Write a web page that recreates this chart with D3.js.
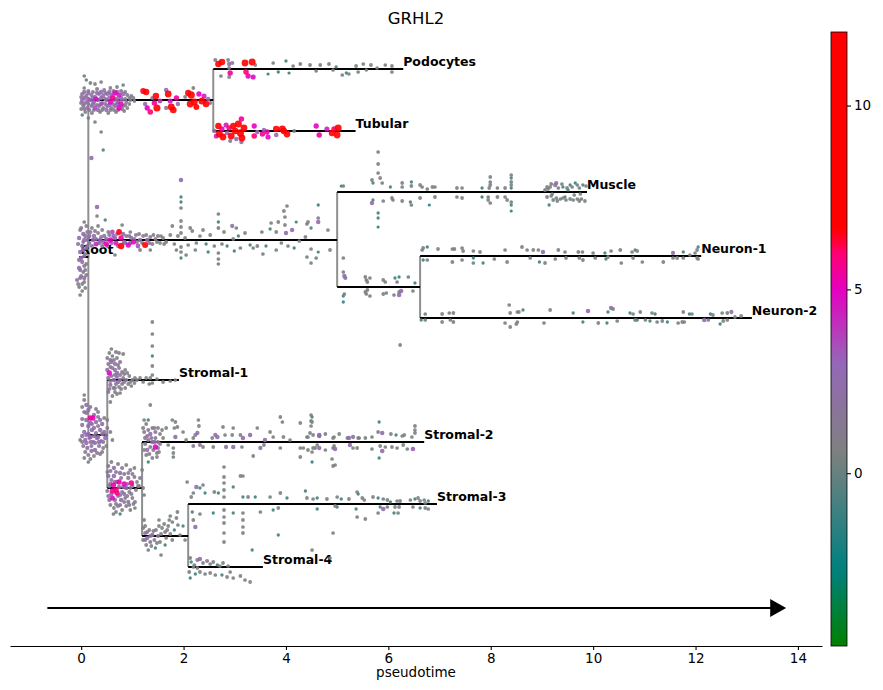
<!DOCTYPE html>
<html>
<head>
<meta charset="utf-8">
<script src="https://cdn.jsdelivr.net/npm/d3@7"></script>
<style>
  body { margin: 0; background: #fff; }
  text { font-family: "DejaVu Sans", sans-serif; }
</style>
</head>
<body>
<div id="chart"></div>
<script>
// Dendrogram branches (pseudotime start / end, vertical position, parent index)
var branchNames  = ["Root", "up", "Podocytes", "Tubular", "mid", "Muscle", "midlow", "Neuron-1", "Neuron-2",
                    "strom", "Stromal-1", "slow", "Stromal-2", "slow2", "Stromal-3", "Stromal-4"];
var branchStart  = [-0.04, 0.14, 2.58, 2.58, 0.14, 5.0, 5.0, 6.62, 6.62, 0.14, 0.51, 0.51, 1.19, 1.19, 2.09, 2.09];
var branchEnd    = [0.14, 2.58, 6.29, 5.36, 5.0, 9.88, 6.62, 12.11, 13.1, 0.51, 1.91, 1.19, 6.70, 2.09, 6.95, 3.55];
var branchY      = [225, 68, 37, 99, 208, 160, 255, 224, 286, 403, 348, 456, 410, 504, 472, 535];
var branchParent = [-1, 0, 1, 1, 0, 4, 4, 6, 6, 0, 9, 9, 11, 11, 13, 13];
var branchLabel  = [true, false, true, true, false, true, false, true, true, false, true, false, true, false, true, true];

var xTicks = [0, 2, 4, 6, 8, 10, 12, 14];
var colorTicks = [0, 5, 10];

// cells: [pseudotime, offset from branch, GRHL2 expression]
var ptsUp = [
  [0.06,-24,0.2],[0.10,-20,-0.3],[0.18,-17,0.5],[0.06,-12,0.3],[0.27,-16,0.6],[0.39,-18,0.4],[0.14,-9,1.0],[0.31,-11,1.5],
  [0.45,-10,1.2],[0.57,-12,0.8],[0.70,-13,0.5],[0.82,-15,0.3],[0.02,-6,1.8],[0.10,-4,2.2],[0.20,-5,1.6],[0.27,-3,2.5],
  [0.35,-6,1.9],[0.43,-4,2.8],[0.51,-6,2.0],[0.59,-5,3.2],[0.66,-7,5.0],[0.74,-5,4.5],[0.82,-6,2.4],[0.90,-5,1.5],
  [0.98,-4,1.0],[0.02,0,2.6],[0.10,2,1.4],[0.18,0,2.9],[0.25,2,2.2],[0.33,0,3.0],[0.41,3,1.8],[0.49,0,2.5],[0.57,2,4.8],
  [0.64,0,2.0],[0.72,2,3.4],[0.80,0,1.7],[0.88,2,1.2],[0.96,0,0.9],[1.04,1,0.6],[0.04,6,1.2],[0.12,8,2.4],[0.20,6,1.1],
  [0.27,8,3.5],[0.35,6,2.0],[0.43,8,1.5],[0.51,6,2.7],[0.59,8,1.4],[0.66,6,2.2],[0.74,8,5.2],[0.82,6,1.6],[0.90,8,0.8],
  [0.08,12,0.9],[0.21,13,1.3],[0.37,12,0.7],[0.53,13,1.0],[0.68,12,0.8],[0.84,11,0.6],[0.14,18,0.2],[0.27,22,0.4],
  [0.02,15,-0.5],[0.39,32,0.2],[0.43,50,-0.5],[0.20,58,2.5],
  [0.06,-8,2.0],[0.14,-7,2.6],[0.23,-8,1.4],[0.31,-7,2.2],[0.39,-8,3.0],[0.47,-7,1.6],[0.55,-8,2.4],[0.63,-9,1.2],[0.70,-8,2.8],
  [0.78,-9,1.5],[0.86,-8,0.9],[0.06,-2,2.4],[0.14,-1,3.2],[0.23,-2,2.0],[0.29,-1,4.6],[0.39,-2,2.6],[0.47,-1,1.8],[0.55,-2,3.0],
  [0.62,-2,5.6],[0.70,-1,2.2],[0.78,-2,2.9],[0.86,-1,1.4],[0.94,-2,1.1],[1.02,-2,0.7],[0.06,4,2.1],[0.14,4,1.7],[0.23,4,2.6],
  [0.31,5,1.9],[0.39,4,3.3],[0.47,4,1.5],[0.55,5,2.3],[0.62,4,1.9],[0.70,4,2.6],[0.78,4,4.9],[0.86,5,1.3],[0.94,4,0.8],
  [0.06,9,1.4],[0.16,10,1.9],[0.25,10,1.2],[0.33,10,2.5],[0.41,10,1.1],[0.49,10,2.0],[0.57,10,1.6],[0.64,10,0.9],[0.72,10,1.8],
  [0.80,9,1.0],[0.00,-3,1.2],[0.00,3,1.6],[0.00,9,0.8],
  [1.21,-9,6.5],[1.27,-8,8.5],[1.25,4,2.5],[1.29,8,5.0],[1.39,-2,1.5],[1.43,3,5.5],[1.46,-4,9.0],[1.48,8,10.5],[1.35,12,6.0],
  [1.54,1,4.0],[1.66,-10,3.0],[1.70,-6,9.5],[1.74,1,4.5],[1.76,7,10.0],[1.80,10,9.0],[1.86,-2,5.5],[1.66,8,2.0],[1.89,4,2.5],
  [2.03,-3,1.0],[2.09,-7,8.0],[2.15,-5,11.0],[2.13,4,10.0],[2.21,2,9.5],[2.25,7,7.0],[2.30,-6,5.0],[2.36,1,10.5],[2.40,-4,4.5],
  [2.44,4,9.0],[2.48,-1,3.0],[2.52,3,1.5],[2.19,-12,0.5]
];
var ptsPodocytes = [
  [2.62,-9,1.5],[2.68,-5,8.5],[2.75,-7,9.0],[2.73,7,0.3],[2.87,-9,0.5],[2.89,-5,2.5],[2.89,-1,1.0],[2.91,4,5.5],[2.89,8,0.8],
  [2.95,-6,1.8],[3.20,-6,9.5],[3.22,3,6.0],[3.26,7,5.0],[3.34,-7,10.0],[3.36,8,4.8],[3.40,-4,0.5],[3.65,5,-1.5],[3.75,-6,0.3],
  [3.85,3,-1.2],[4.00,-8,-1.0],[4.06,4,-1.4],[4.14,-3,0.4],[4.28,-5,0.5],[4.47,-4,0.6],[4.59,2,0.2],[4.67,-4,0.5],[4.84,-5,0.8],
  [4.92,1,0.3],[4.98,-2,-0.8],[5.10,6,0.4],[5.18,4,-1.0],[5.23,5,0.2],[5.37,-3,0.5],[5.41,3,0.3],[5.51,-5,0.4],[5.57,1,0.2],
  [5.66,-4,0.5],[5.78,-1,0.3],[5.94,-4,0.4],[6.07,-3,0.6],[6.07,3,0.4]
];
var ptsTubular = [
  [2.60,0,2.5],[2.64,5,4.5],[2.68,-5,8.5],[2.70,3,10.0],[2.75,-2,5.0],[2.77,6,9.5],[2.85,2,3.0],[2.89,-3,6.0],[2.93,5,10.0],
  [2.97,-5,8.0],[3.01,0,9.0],[3.03,8,2.5],[3.07,-7,10.5],[3.11,2,11.0],[3.13,-12,5.5],[3.14,7,10.0],[3.18,-3,9.5],[3.13,11,2.5],
  [2.91,10,1.5],[2.83,-6,4.5],[3.38,-5,5.0],[3.38,5,6.0],[3.44,1,2.5],[3.54,3,5.5],[3.57,-1,2.8],[3.63,1,5.2],[3.65,6,4.8],
  [3.81,-2,9.0],[3.93,-2,10.0],[3.96,0,8.5],[4.02,3,9.5],[4.59,-5,5.0],[4.65,4,5.5],[4.80,-2,4.5],[4.90,2,9.0],[4.94,-2,6.0],
  [5.02,-3,10.0],[5.00,4,9.5],[4.16,0,0.5],[3.81,4,3.0]
];
var ptsMid = [
  [0.06,-18,0.3],[0.10,-14,0.6],[-0.02,-10,1.2],[0.04,-6,2.0],[0.12,-8,1.5],[-0.04,-2,2.4],[0.06,0,2.8],[0.14,-2,1.0],
  [0.02,6,2.2],[0.10,8,1.8],[-0.02,12,2.5],[0.06,16,1.4],[0.02,22,2.0],[0.10,24,1.2],[-0.04,28,2.6],[0.04,32,1.0],
  [-0.02,38,1.6],[0.06,42,0.8],[-0.04,47,0.5],[0.02,51,0.3],[0.10,35,1.3],[0.00,18,3.0],[-0.08,40,1.8],
  [0.00,-12,1.6],[0.08,-4,2.2],[-0.06,4,1.8],[0.04,10,2.6],[0.08,14,1.2],[-0.04,20,2.2],[0.06,26,1.6],[-0.02,30,2.0],
  [0.08,30,1.0],[0.00,36,1.4],[0.06,38,2.4],[-0.06,44,1.2],[0.02,44,0.9],[0.08,48,0.6],[-0.02,55,0.4],[0.04,2,1.5],
  [0.18,-8,1.5],[0.25,-4,2.5],[0.33,-7,1.0],[0.37,0,3.2],[0.45,-4,2.0],[0.53,-8,1.2],[0.57,0,5.0],[0.63,-4,2.3],[0.68,3,4.5],
  [0.74,-8,6.5],[0.78,-2,5.5],[0.78,6,8.5],[0.84,2,3.0],[0.88,-4,1.5],[0.92,5,5.0],[0.98,-2,2.0],[1.02,2,4.8],[1.07,-5,1.2],
  [1.11,6,3.5],[1.15,0,2.2],[1.21,-4,0.9],[1.25,5,7.5],[1.29,0,3.0],[1.35,-3,1.0],[1.39,4,1.8],[1.45,-1,0.8],[1.50,-4,1.4],
  [1.54,3,0.6],[1.60,-2,1.0],[1.66,2,0.5],[0.21,6,1.8],[0.29,4,4.2],[0.41,6,1.4],[0.49,4,5.2],[0.61,-8,3.6],[0.21,-12,0.8],
  [0.16,-4,2.2],[0.16,3,1.6],[0.23,0,2.8],[0.27,-9,1.2],[0.29,-1,1.9],[0.35,3,2.4],[0.39,-3,1.5],[0.41,-10,0.8],[0.43,2,3.0],
  [0.49,-1,2.1],[0.51,6,1.2],[0.55,-5,1.7],[0.59,3,2.6],[0.66,-2,3.2],[0.70,-6,1.4],[0.72,6,2.0],[0.82,-6,2.4],[0.86,3,1.6],
  [0.94,-4,1.8],[0.96,3,2.5],[1.04,-1,1.5],[1.09,2,0.9],[1.13,-6,1.2],[1.19,3,1.0],[1.27,-5,0.8],[1.33,3,1.4],[1.41,-5,0.6],
  [1.48,2,0.7],[1.56,-4,0.4],[1.62,4,0.5],[0.12,0,1.4],[0.12,6,2.0],
  [0.33,-14,0.5],[0.31,-33,2.8],[0.31,-24,0.4],[0.80,-15,0.3],[0.96,-8,0.4],[1.15,10,0.5],[1.35,10,0.3],[0.66,15,0.2],[0.47,-20,-0.6],
  [1.74,-5,0.5],[1.82,4,0.3],[1.89,-4,0.8],[1.95,-38,-1.0],[1.95,-32,0.4],[1.95,-19,0.6],[1.95,-13,0.5],[1.95,-7,0.7],
  [1.95,7,0.5],[1.95,12,0.4],[1.95,18,-1.2],[2.03,-2,0.5],[2.09,5,0.4],[2.17,-9,0.6],[2.25,3,0.3],[1.95,-60,2.8],[1.95,-43,-1.0],
  [2.32,-4,0.4],[2.44,4,-1.0],[2.52,-5,0.5],[2.60,6,0.3],[2.68,-26,0.4],[2.68,-18,-1.2],[2.68,-12,0.5],[2.68,13,0.4],[2.68,19,0.3],
  [2.68,24,0.2],[2.79,-8,0.5],[2.85,6,-1.0],[2.95,-14,2.0],[2.97,-1,0.5],[2.99,11,-1.3],[3.03,-12,0.4],[3.07,-4,-1.1],[3.11,8,0.4],
  [3.36,8,0.4],[3.44,6,0.5],[3.55,14,0.3],[3.61,6,-1.0],[3.69,-11,-1.2],[3.71,-17,0.4],[3.81,-8,0.5],[3.81,10,0.4],[3.85,-18,0.6],
  [3.91,3,0.4],[3.96,-29,0.5],[3.98,-23,0.4],[3.98,-15,0.6],[4.00,-7,2.5],[4.02,-34,0.4],[4.04,6,0.3],[4.12,-10,2.7],[4.16,8,-1.0],
  [4.20,-18,-1.4],[4.26,1,0.3],[4.38,-3,0.5],[4.43,-18,0.6],[4.49,9,0.4],[4.59,18,0.3],[4.63,-22,0.4],[4.63,-18,2.6],[4.63,-35,-1.2],
  [4.63,12,-1.5],[4.41,-16,0.3],[4.49,-12,-0.8],[4.41,17,0.4],[4.49,23,0.3],[4.82,-10,0.4],[4.86,10,0.5],
  [2.13,-12,0.5],[2.23,10,0.4],[2.38,-10,0.5],[2.48,12,-1.1],[2.75,4,0.4],[3.20,-7,0.5],[3.30,5,-1.0],[3.53,-8,0.4],[1.78,-14,0.5],
  [1.86,10,0.3],[2.05,15,0.4]
];
var ptsMuscle = [
  [5.08,-6,-1.5],[5.12,-6,0.3],[5.68,-12,0.5],[5.70,-9,-1.0],[5.80,-19,0.4],[5.80,-28,0.5],[5.80,-40,0.4],[5.84,-14,0.6],
  [5.88,-9,0.4],[6.04,-5,-1.2],[6.27,-9,0.5],[6.27,-5,0.4],[6.45,-10,-1.0],[6.45,-6,0.5],[6.62,-7,0.6],[6.66,-5,0.4],
  [6.76,-3,0.3],[6.86,-5,0.5],[6.91,-5,0.4],[7.34,-4,0.5],[7.44,-4,0.4],[7.83,-4,-1.2],[7.99,-15,0.5],[7.99,-10,0.4],
  [7.99,-7,0.6],[7.97,-4,0.5],[8.13,-4,0.4],[8.28,-4,0.5],[8.40,-17,0.4],[8.40,-14,-1.0],[8.40,-10,0.5],[8.40,-7,0.3],
  [8.40,-4,-1.3],[9.10,-5,0.5],[9.16,-5,0.4],[9.26,-7,2.5],[9.28,-9,1.8],[9.41,-5,-1.0],[9.55,-7,-1.2],[9.69,-7,0.3],
  [9.80,-7,-0.8],[9.86,-6,0.4],
  [5.68,11,2.5],[5.70,8,-1.0],[5.80,21,-1.2],[5.80,26,-1.2],[5.80,35,-1.6],[5.90,9,0.4],[6.07,6,0.5],[6.09,8,0.4],[6.27,9,0.5],
  [6.43,10,-1.0],[6.45,13,0.4],[6.62,6,0.5],[6.80,13,-1.4],[6.91,5,0.5],[7.34,5,0.4],[7.44,6,0.5],[7.83,5,-1.0],[7.95,5,0.4],
  [7.95,8,0.6],[7.99,11,0.4],[8.13,5,0.5],[8.28,5,0.4],[8.32,8,0.5],[8.40,10,0.4],[8.40,13,-1.0],[8.40,19,-1.5],[9.10,5,0.6],
  [9.14,13,-1.2],[9.22,8,0.5],[9.41,6,0.4],[9.55,7,0.5],[9.69,7,0.4],[9.84,9,0.5],[9.28,6,0.4],[9.36,7,0.3],[9.47,8,0.4],
  [9.77,7,0.3],[9.06,-2,0.5],[9.20,2,0.3],[9.51,-2,-0.9],[9.63,3,0.3],[9.75,2,0.4],
  [9.12,-3,0.4],[9.18,-8,0.5],[9.32,-4,0.3],[9.39,-8,0.4],[9.49,-4,0.5],[9.59,-5,0.4],[9.65,-9,-1.0],[9.73,-4,0.4],
  [9.18,4,0.4],[9.30,9,0.5],[9.45,5,-1.0],[9.61,8,0.4],[9.73,9,0.5]
];
var ptsMidlow = [
  [5.12,-29,0.4],[5.12,-15,0.3],[5.14,-11,2.5],[5.16,-9,1.8],[5.55,-10,0.5],[5.57,-7,0.4],[5.59,-5,0.6],[5.64,-9,0.4],
  [5.90,-7,0.5],[5.94,-5,0.3],[6.13,-9,-1.0],[6.17,-5,0.4],[6.21,-10,-1.1],[6.39,-10,0.3],[6.52,-4,-1.2],[5.12,9,-1.2],
  [5.14,7,0.4],[5.12,15,-1.2],[5.55,5,0.5],[5.57,7,0.4],[5.59,3,0.6],[5.64,9,0.3],[5.90,7,0.5],[5.96,6,0.4],[6.11,8,0.3],
  [6.21,8,2.8],[6.21,5,0.5],[6.25,4,2.5],[6.48,4,0.4],[6.23,58,0.5]
];
var ptsNeuron1 = [
  [6.66,-6,0.4],[6.68,-8,0.5],[6.76,-9,-1.0],[6.97,-7,0.5],[7.25,-7,0.4],[7.29,-7,0.5],[7.44,-8,0.4],[7.46,-5,0.5],[7.66,-5,0.3],
  [7.79,-4,0.5],[8.28,-6,0.4],[8.61,-9,0.5],[8.71,-6,0.4],[8.83,-6,0.5],[8.93,-6,0.4],[9.02,-4,2.5],[9.32,-6,0.5],[9.45,-4,0.4],
  [9.71,-4,0.5],[9.79,-4,0.4],[10.0,-3,0.4],[10.23,-3,-1.0],[10.35,-5,0.4],[10.53,-6,0.5],[10.76,-4,0.4],[10.82,-6,-1.0],
  [10.86,-5,0.5],[11.56,-3,2.0],[11.76,-4,-0.8],[11.99,-3,0.4],[12.03,-6,0.5],[12.05,-9,-1.0],
  [6.68,4,-1.2],[6.76,4,0.4],[7.25,6,0.5],[7.44,4,0.4],[7.66,2,-1.2],[7.66,7,0.4],[7.85,7,-1.0],[8.07,3,0.4],[8.32,6,0.5],
  [8.77,2,0.4],[8.95,6,-1.0],[9.06,7,0.5],[9.26,3,0.4],[9.47,2,0.5],[9.73,2,0.4],[9.80,4,0.5],[10.04,2,0.4],[10.25,3,-1.0],
  [10.29,1,0.5],[10.55,7,0.4],[10.78,2,0.5],[10.96,6,0.4],[11.37,6,0.5],[11.56,2,0.4],[11.64,2,0.6],[11.76,2,0.4],[12.03,2,0.5],
  [12.05,3,0.3],[11.89,-1,0.4]
];
var ptsNeuron2 = [
  [6.72,-4,0.4],[7.05,-4,0.5],[7.19,-5,0.4],[7.27,-5,0.5],[8.36,-13,0.4],[8.38,-5,0.5],[8.52,-6,0.4],[8.55,-6,0.5],[8.63,-8,-1.0],
  [9.16,-8,0.5],[9.61,-5,-0.8],[9.90,-7,2.8],[10.29,-6,-1.0],[10.35,-10,2.2],[10.39,-9,0.5],[10.72,-5,-1.0],[10.78,-4,0.4],
  [10.92,-6,0.5],[11.15,-5,0.4],[11.21,-4,-1.0],[11.76,-6,0.5],[11.88,-4,-1.0],[11.93,-4,0.4],[12.29,-4,-1.0],[12.34,-3,0.5],
  [12.52,-5,0.4],[12.62,-5,0.5],[12.70,-6,2.0],
  [6.64,2,-1.2],[6.72,2,0.4],[7.05,4,0.5],[7.21,2,0.4],[7.27,4,0.5],[8.28,5,0.4],[8.38,9,0.5],[8.52,4,0.4],[8.50,6,0.5],
  [9.04,5,0.4],[9.80,4,-1.0],[10.10,5,0.5],[10.27,5,-1.0],[10.47,3,0.4],[10.82,2,0.5],[10.86,2,-1.0],[11.02,2,0.4],[11.11,3,-1.0],
  [11.25,4,0.4],[11.35,3,0.5],[11.45,4,-1.0],[11.66,5,0.4],[11.74,4,0.5],[11.78,4,0.4],[12.17,2,2.8],[12.25,2,0.4],[12.48,6,-1.0],
  [12.54,3,0.5],[12.62,2,0.4],[12.77,-1,0.5],[12.89,-2,0.6]
];
var ptsStrom = [
  [0.06,-35,1.5],[0.10,-30,2.2],[0.06,-23,1.8],[0.14,-25,2.6],[0.18,-17,5.5],[0.23,-17,5.0],[0.10,-15,2.4],[0.02,-10,2.0],
  [0.14,-9,2.8],[0.21,-11,1.6],[0.29,-13,2.5],[0.37,-15,2.0],[0.45,-17,1.2],[0.06,-3,2.2],[0.14,-1,3.0],[0.21,-5,2.6],
  [0.29,-2,1.8],[0.37,-5,2.8],[0.45,-3,2.0],[0.51,-7,1.5],[0.08,5,2.5],[0.16,3,1.7],[0.23,7,2.8],[0.31,3,2.4],[0.39,6,1.5],
  [0.47,3,2.7],[0.04,11,1.2],[0.12,13,2.2],[0.20,11,1.4],[0.27,15,2.5],[0.35,11,1.8],[0.43,13,1.0],[0.14,20,1.5],[0.25,21,0.8],
  [0.37,19,1.2],[0.06,23,0.5],[0.49,11,0.6],[0.57,-3,1.0],[0.61,5,0.5],[0.06,-40,0.3],[0.33,-23,1.2],[-0.02,5,0.5],[0.14,27,0.3],
  [0.51,-15,0.8],
  [0.02,-28,1.2],[0.10,-22,1.6],[0.18,-28,1.0],[0.25,-20,2.0],[0.33,-18,1.7],[0.41,-11,2.3],[0.02,-16,1.9],[0.18,-12,2.6],
  [0.25,-7,2.2],[0.33,-9,1.5],[0.41,-1,2.5],[0.49,0,1.6],[0.02,1,2.4],[0.10,0,2.0],[0.18,2,3.2],[0.25,1,2.0],[0.33,2,2.6],
  [0.43,7,1.8],[0.02,7,1.5],[0.10,8,2.7],[0.18,7,1.9],[0.27,8,2.2],[0.35,7,3.0],[0.08,17,1.6],[0.20,16,2.0],[0.31,18,1.4],
  [0.41,17,1.0],[0.18,24,0.8],[0.29,-26,1.2]
];
var ptsStromal1 = [
  [0.51,-22,0.8],[0.55,-27,0.5],[0.61,-24,0.3],[0.53,-16,1.5],[0.59,-18,2.5],[0.64,-20,1.2],[0.70,-22,0.6],[0.76,-18,1.8],
  [0.55,-7,5.0],[0.61,-12,1.5],[0.66,-10,2.2],[0.74,-12,1.0],[0.80,-8,1.6],[0.86,-10,0.8],[0.53,-2,2.4],[0.59,-4,1.2],
  [0.64,0,2.8],[0.70,-3,1.5],[0.76,0,2.0],[0.82,-2,1.0],[0.88,0,1.4],[0.94,-4,0.7],[1.00,0,1.2],[1.05,-2,0.5],[0.57,5,2.0],
  [0.63,8,1.0],[0.68,4,1.6],[0.74,7,0.8],[0.80,4,1.3],[0.86,8,0.6],[0.92,4,1.0],[0.98,6,0.4],[1.04,3,0.8],[1.09,0,0.5],
  [0.53,12,1.2],[0.61,16,0.8],[0.57,22,0.5],[0.66,12,0.5],[0.76,13,0.3],[1.15,-2,0.6],[1.21,2,0.4],[1.27,-2,0.5],[1.33,4,0.3],
  [0.68,-28,1.8],[0.82,-26,1.0],[1.39,-58,0.5],[1.39,-46,0.3],[1.39,-34,0.4],[1.39,-24,-1.0],[1.39,-14,0.5],[1.39,-5,0.3],
  [1.39,3,0.4],[1.35,-2,0.6],[1.48,-1,0.4],[1.60,2,0.5],[1.74,1,0.3],[1.84,0,0.4],
  [0.57,-20,1.6],[0.66,-16,2.0],[0.72,-15,1.3],[0.51,-10,2.2],[0.57,-13,1.0],[0.70,-7,2.6],[0.76,-5,1.1],[0.84,-6,1.4],
  [0.90,-7,0.8],[0.57,1,1.7],[0.66,-5,1.9],[0.72,2,2.3],[0.84,2,1.6],[0.96,2,0.9],[0.55,9,1.5],[0.66,8,1.2],[0.78,9,1.0],
  [0.70,14,0.7],[0.59,-31,0.4],[0.74,-27,0.6]
];
var ptsSlow = [
  [0.53,-22,1.5],[0.59,-26,0.8],[0.64,-20,2.2],[0.72,-24,1.2],[0.80,-20,1.8],[0.88,-23,0.8],[0.96,-18,1.5],[1.04,-20,0.6],
  [0.53,-12,2.5],[0.59,-8,1.8],[0.64,-12,3.0],[0.70,-6,2.2],[0.78,-10,1.4],[0.84,-4,5.0],[0.92,-10,2.0],[0.98,-5,5.5],
  [1.04,-11,1.2],[1.09,-6,0.8],[1.15,-10,1.5],[0.55,-2,2.0],[0.63,-3,5.2],[0.68,2,6.0],[0.74,-1,2.5],[0.80,4,1.6],[0.88,0,2.8],
  [0.94,4,1.2],[1.00,-2,2.2],[1.07,2,1.0],[1.13,-2,0.7],[0.53,8,1.8],[0.61,3,5.5],[0.61,10,4.8],[0.66,12,2.2],[0.72,8,1.4],
  [0.78,12,2.6],[0.86,10,1.0],[0.92,14,2.0],[1.00,10,0.8],[1.05,14,1.4],[0.57,17,1.2],[0.64,20,0.6],[0.72,18,1.8],[0.80,22,0.8],
  [0.88,18,1.2],[0.96,22,0.5],[0.63,26,0.4],[0.76,26,-1.0],[1.05,20,0.3],[1.21,0,0.5],[1.23,7,0.4],[1.19,-18,0.6],[0.51,-16,0.4],
  [0.57,-17,1.9],[0.68,-16,1.2],[0.76,-15,2.4],[0.84,-14,1.5],[0.92,-15,0.9],[1.00,-14,1.3],[0.57,-4,2.3],[0.66,-6,2.0],
  [0.74,-6,5.3],[0.82,-1,1.8],[0.90,-4,1.4],[0.96,0,0.9],[1.11,-2,1.2],[0.51,3,1.5],[0.59,6,2.4],[0.70,5,5.6],[0.76,7,1.9],
  [0.84,6,2.2],[0.90,8,1.1],[0.98,6,1.6],[0.55,12,2.1],[0.68,16,1.3],[0.76,17,1.6],[0.84,14,0.7],[0.94,17,1.0],[1.02,16,0.6],
  [0.68,24,0.5]
];
var ptsStromal2 = [
  [1.21,-14,1.5],[1.27,-18,0.8],[1.31,-12,1.2],[1.35,-8,2.5],[1.39,-14,0.6],[1.45,-10,1.8],[1.50,-14,1.0],[1.58,-12,0.5],
  [1.25,-4,2.0],[1.31,-2,1.0],[1.39,0,2.8],[1.45,-4,1.2],[1.50,0,1.6],[1.25,2,1.4],[1.29,8,2.2],[1.35,5,1.0],[1.45,5,5.0],
  [1.50,6,1.8],[1.48,11,1.2],[1.48,15,0.6],[1.39,16,0.8],[1.27,13,0.5],[1.31,20,-1.0],[1.23,-22,0.4],[1.31,-22,-1.0],[1.35,-37,0.5],
  [1.23,-10,1.2],[1.29,-6,1.8],[1.37,-4,1.4],[1.43,-14,0.9],[1.43,0,2.2],[1.54,-8,0.8],[1.54,2,1.3],[1.33,12,1.6],[1.41,8,1.4],
  [1.23,8,0.9],[1.52,10,0.7],[1.60,-4,0.6],
  [1.66,-14,0.5],[1.78,-22,0.4],[1.84,-20,0.5],[1.82,-14,0.3],[1.84,-5,2.5],[1.80,6,0.4],[1.80,11,0.5],[1.80,15,0.3],[1.88,-15,0.5],
  [1.70,3,0.4],[2.19,-4,0.5],[2.23,-7,1.8],[2.29,-22,0.4],[2.30,-16,0.5],[2.32,3,1.5],[2.38,5,0.6],[2.27,-9,2.2],[2.19,4,1.0],
  [2.56,-4,0.5],[2.62,-7,2.0],[2.66,-5,2.8],[2.58,5,0.6],[2.77,-15,0.5],[2.81,-7,0.4],[2.83,5,2.0],[2.95,-7,0.5],[2.97,-14,0.4],
  [2.97,5,2.5],[3.11,-7,0.6],[3.14,5,0.4],[3.16,-4,2.8],[3.30,-7,2.6],[3.36,14,0.5],[3.44,-14,0.4],[3.69,-10,0.5],[3.75,-5,0.3],
  [3.89,-25,0.5],[3.93,-20,0.4],[3.95,-5,0.6],[3.89,6,0.4],[4.28,15,0.5],[4.28,6,0.3],[4.43,-5,0.4],[4.51,-25,-1.0],[4.51,-20,0.5],
  [4.53,6,0.6],[4.61,3,0.4],[4.65,-6,2.6],[4.92,6,0.4],[4.92,-4,0.5],[4.96,23,0.4],[5.20,-4,0.5],[5.31,-5,2.0],[5.41,-4,0.5],
  [4.28,-19,0.5],[4.49,-27,0.4],[4.49,-21,0.5],[4.49,-16,0.4],[4.47,-9,0.5],[4.41,-5,0.4],[4.53,-7,0.6],[4.65,-7,3.0],[4.77,-8,0.5],
  [4.94,-5,0.4],[5.04,-8,0.5],[5.23,-4,2.6],[5.43,-4,0.4],[5.55,-4,0.5],[5.68,-5,0.4],[5.80,-10,0.5],[5.82,-20,-1.2],[5.88,-9,2.5],
  [6.05,-8,0.5],[6.15,-7,-1.0],[6.27,-6,0.4],[6.31,-7,0.5],[6.46,-5,0.4],[6.52,-16,0.5],[6.52,-12,0.4],[6.52,-9,0.5],
  [4.34,6,0.4],[4.43,8,0.5],[4.51,10,0.4],[4.57,6,0.5],[4.65,6,2.5],[4.77,8,0.4],[4.94,4,0.5],[4.96,7,2.6],[5.25,3,2.5],
  [5.31,6,0.4],[5.39,6,0.5],[5.68,7,0.4],[5.84,4,0.5],[5.88,9,3.0],[5.94,5,0.4],[6.07,5,0.5],[6.17,6,0.4],[6.29,3,0.5],
  [6.37,7,0.4],[6.48,7,3.2],[4.51,20,-1.2],[4.90,17,0.4],[4.92,24,0.5],[5.82,16,-1.0],[3.57,3,0.5],[4.08,-2,0.4],[3.50,6,2.2],
  [3.59,-2,2.4],[2.05,-2,0.5],[1.99,-10,0.4]
];
var ptsSlow2 = [
  [1.21,-8,1.0],[1.25,-3,1.8],[1.21,4,1.2],[1.29,2,2.2],[1.27,9,0.8],[1.33,-6,0.6],[1.35,6,1.5],[1.39,-1,2.0],[1.43,4,0.8],
  [1.46,-6,1.0],[1.50,0,1.6],[1.54,6,0.5],[1.31,14,0.4],[1.45,12,-0.8],[1.58,-8,0.5],[1.64,-4,1.2],[1.66,2,0.4],[1.70,-10,0.8],
  [1.74,-2,0.5],[1.78,-14,0.4],[1.82,-6,-1.0],[1.86,-18,0.5],[1.89,-11,0.3],[1.78,4,0.6],[1.93,-1,0.4],[1.64,9,-1.0],
  [1.52,-16,0.4],[1.74,-20,0.3],[1.88,-24,0.5],[1.99,-10,-1.0],[1.23,-16,0.5],[1.56,19,0.4],[2.03,4,0.3],
  [1.25,-10,0.8],[1.29,-4,1.5],[1.35,0,1.1],[1.41,-5,1.3],[1.37,10,0.7],[1.48,7,1.0],[1.56,-2,1.2],[1.62,-12,0.5],[1.68,-6,0.9],
  [1.72,-16,0.4],[1.25,4,1.6],[1.52,-10,0.7]
];
var ptsStromal3 = [
  [2.07,-22,0.4],[2.15,-7,0.5],[2.19,-11,0.4],[2.25,-17,2.6],[2.32,-16,-1.0],[2.38,-19,0.4],[2.42,-11,-1.2],[2.60,-12,0.5],
  [2.68,-11,-1.0],[2.79,-37,0.4],[2.79,-27,0.5],[2.79,-21,0.4],[2.79,-14,0.5],[2.79,-7,0.4],[2.97,-17,-1.0],[3.11,-28,0.5],
  [3.16,-28,0.4],[3.16,-7,-1.0],[3.26,-7,0.5],[3.40,-7,-1.2],[3.69,-7,0.4],[3.89,-11,0.5],[4.02,-6,-1.0],[4.38,-13,-1.0],
  [4.41,-6,0.5],[4.53,-5,0.4],[4.61,-6,-1.0],[4.80,-5,0.5],[5.00,-7,0.4],[5.08,-5,-1.0],[5.23,-5,0.5],[5.39,-12,0.4],
  [5.41,-10,-1.0],[5.49,-6,0.5],[5.53,-4,0.4],[5.70,-7,0.5],[5.80,-6,-1.0],[5.90,-5,0.4],[5.98,-4,0.5],[6.04,-2,-1.0],
  [6.17,-3,0.4],[6.23,-3,0.5],[6.43,-4,0.4],[6.52,-5,-1.0],[6.62,-3,0.5],[6.70,-4,0.4],[6.78,-3,-1.0],[6.58,-6,0.5],[6.72,-1,0.4],
  [2.17,8,-1.0],[2.19,16,0.5],[2.23,23,2.5],[2.32,10,0.4],[2.58,9,-1.2],[2.79,6,0.5],[2.79,13,0.4],[2.79,19,0.5],[2.79,29,0.4],
  [2.79,38,0.5],[2.97,9,-1.0],[3.16,9,0.4],[3.16,16,0.5],[3.16,23,0.4],[3.16,29,0.5],[3.50,8,0.4],[3.75,6,-1.0],[3.85,4,0.5],
  [3.85,31,-1.2],[4.92,29,0.4],[3.34,46,-1.0],[4.51,46,0.4],[4.61,5,-1.0],[4.96,2,0.5],[5.00,3,-1.0],[5.37,5,-1.0],[5.39,13,0.4],
  [5.55,15,0.5],[5.80,9,0.4],[5.84,3,-1.0],[5.90,5,2.8],[5.98,3,0.4],[6.11,9,-1.0],[6.13,3,0.5],[6.19,9,0.4],[6.21,3,0.5],
  [6.48,3,0.4],[6.62,4,-1.0],[6.72,4,0.5],[6.78,5,0.4]
];
var ptsStromal4 = [
  [2.13,-9,0.5],[2.15,-5,-1.0],[2.21,-2,0.4],[2.27,-7,1.8],[2.32,-8,2.5],[2.38,-4,0.5],[2.46,-6,1.5],[2.52,-3,0.4],[2.58,-5,0.8],
  [2.66,-2,-1.0],[2.71,-1,0.4],[2.77,-4,0.5],[2.87,-1,0.4],[2.11,5,0.5],[2.19,0,0.4],[2.27,1,0.6],[2.23,7,-1.0],[2.32,5,0.5],
  [2.42,7,0.4],[2.52,6,0.6],[2.62,8,0.4],[2.75,8,-1.0],[2.85,10,0.5],[2.97,11,0.4],[3.11,9,0.5],[3.20,13,0.4],[3.30,15,0.5],
  [2.13,11,-1.2],[2.91,5,0.3],[4.86,-9,0.4]
];

var branchPoints = {
  "up": ptsUp, "Podocytes": ptsPodocytes, "Tubular": ptsTubular, "mid": ptsMid, "Muscle": ptsMuscle,
  "midlow": ptsMidlow, "Neuron-1": ptsNeuron1, "Neuron-2": ptsNeuron2, "strom": ptsStrom, "Stromal-1": ptsStromal1,
  "slow": ptsSlow, "Stromal-2": ptsStromal2, "slow2": ptsSlow2, "Stromal-3": ptsStromal3, "Stromal-4": ptsStromal4
};

// Set up chart
var svgWidth = 883;
var svgHeight = 690;

var svg = d3.select("#chart")
  .append("svg")
  .attr("width", svgWidth)
  .attr("height", svgHeight);

var xScale = d3.scaleLinear().domain([-1.39, 14.47]).range([10, 822]);
var yScale = d3.scaleLinear().domain([0, 614]).range([32, 646]);

var cmin = -4.7, cmax = 12.0;
var colorScale = d3.scaleLinear()
  .domain([-4.7, -2.6, 0.6, 3.0, 5.0, 6.0, 6.6, 12.0])
  .range(["#008000", "#008080", "#808080", "#9468b8", "#e600c0", "#ff0070", "#ff0000", "#ff0000"])
  .clamp(true);
var sizeScale = d3.scaleLinear().domain([-4.7, 0, 12]).range([1.2, 1.8, 3.8]).clamp(true);

// Title
svg.append("text")
  .attr("x", 416)
  .attr("y", 24)
  .attr("text-anchor", "middle")
  .style("font-size", "16.5px")
  .text("GRHL2");

// Vertical connectors
var linkGroup = svg.append("g");
branchNames.forEach(function(name, i) {
  var p = branchParent[i];
  if (p < 0) return;
  linkGroup.append("line")
    .attr("x1", xScale(branchStart[i]))
    .attr("x2", xScale(branchStart[i]))
    .attr("y1", yScale(branchY[p]))
    .attr("y2", yScale(branchY[i]))
    .attr("stroke", "#8f8f8f")
    .attr("stroke-width", 2);
});

// Horizontal branch segments
branchNames.forEach(function(name, i) {
  linkGroup.append("line")
    .attr("x1", xScale(branchStart[i]))
    .attr("x2", xScale(branchEnd[i]))
    .attr("y1", yScale(branchY[i]))
    .attr("y2", yScale(branchY[i]))
    .attr("stroke", "black")
    .attr("stroke-width", 2);
});

// Branch labels
branchNames.forEach(function(name, i) {
  if (!branchLabel[i]) return;
  var tx = name === "Root" ? branchStart[i] : branchEnd[i];
  svg.append("text")
    .attr("x", xScale(tx) + (name === "Root" ? 1.5 : 0))
    .attr("y", yScale(branchY[i]) - 3)
    .style("font-size", "12.5px")
    .style("font-weight", "bold")
    .text(name);
});

// Cells, highest expression drawn last
var cells = [];
branchNames.forEach(function(name, i) {
  var pts = branchPoints[name];
  if (!pts) return;
  pts.forEach(function(d) {
    cells.push({ t: d[0], y: branchY[i] + d[1], v: d[2] });
  });
});
cells.sort(function(a, b) { return a.v - b.v; });

svg.append("g")
  .selectAll("circle")
  .data(cells)
  .enter()
  .append("circle")
  .attr("cx", d => xScale(d.t))
  .attr("cy", d => yScale(d.y))
  .attr("r", d => sizeScale(d.v))
  .attr("fill", d => colorScale(d.v))
  .attr("opacity", 0.9);

// Pseudotime arrow
var arrowStart = -0.66, arrowEnd = 13.77, arrowY = 576;
svg.append("line")
  .attr("x1", xScale(arrowStart))
  .attr("x2", xScale(arrowEnd) - 14)
  .attr("y1", yScale(arrowY))
  .attr("y2", yScale(arrowY))
  .attr("stroke", "black")
  .attr("stroke-width", 2);
svg.append("path")
  .attr("d", "M" + xScale(arrowEnd) + "," + yScale(arrowY) +
    " L" + (xScale(arrowEnd) - 16) + "," + (yScale(arrowY) - 9) +
    " L" + (xScale(arrowEnd) - 16) + "," + (yScale(arrowY) + 9) + " Z")
  .attr("fill", "black");

// X axis
var bottomAxis = d3.axisBottom(xScale).tickValues(xTicks).tickSize(4).tickSizeOuter(0).tickPadding(3);
var axisG = svg.append("g")
  .attr("transform", "translate(0, 646)")
  .call(bottomAxis);
axisG.selectAll("text").style("font-size", "13.5px").style("font-family", "DejaVu Sans");
axisG.select(".domain").attr("stroke-width", 1.1);
axisG.selectAll(".tick line").attr("stroke-width", 1.1);

svg.append("text")
  .attr("x", 416)
  .attr("y", 677)
  .attr("text-anchor", "middle")
  .style("font-size", "13.5px")
  .text("pseudotime");

// Colorbar
var cbX = 831, cbW = 16, cbTop = 32, cbBottom = 646;
var defs = svg.append("defs");
var grad = defs.append("linearGradient")
  .attr("id", "cbGrad")
  .attr("x1", 0).attr("y1", 1).attr("x2", 0).attr("y2", 0);
d3.range(0, 1.0001, 0.02).forEach(function(f) {
  grad.append("stop")
    .attr("offset", f)
    .attr("stop-color", colorScale(cmin + f * (cmax - cmin)));
});
svg.append("rect")
  .attr("x", cbX).attr("y", cbTop)
  .attr("width", cbW).attr("height", cbBottom - cbTop)
  .attr("fill", "url(#cbGrad)")
  .attr("stroke", "black")
  .attr("stroke-width", 0.8);

var cbScale = d3.scaleLinear().domain([cmin, cmax]).range([cbBottom, cbTop]);
var rightAxis = d3.axisRight(cbScale).tickValues(colorTicks).tickSize(4).tickPadding(3).tickSizeOuter(0);
var cbAxis = svg.append("g")
  .attr("transform", "translate(" + (cbX + cbW) + ",0)")
  .call(rightAxis);
cbAxis.select(".domain").remove();
cbAxis.selectAll("text").style("font-size", "13.5px").style("font-family", "DejaVu Sans");
cbAxis.selectAll(".tick line").attr("stroke-width", 1.1);
</script>
</body>
</html>
